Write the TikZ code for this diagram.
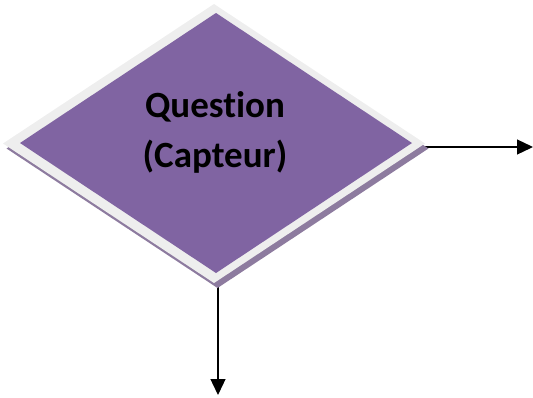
\documentclass[tikz,border=0pt]{standalone}
\usepackage{fontspec}
\setmainfont{Carlito}[Ligatures=NoCommon]
\usetikzlibrary{shapes.geometric,arrows.meta}
\definecolor{purp}{HTML}{8064A2}
\definecolor{rimc}{HTML}{EEEEEE}
\definecolor{shadowc}{HTML}{8D7B9F}
\tikzset{
  x=1pt, y=1pt,
  flow/.style={draw=black, line width=1.3pt, -{Triangle[length=16pt,width=15pt]}},
  rhomb/.style={diamond, inner sep=0pt, outer sep=0pt, draw=none},
  label/.style={font=\fontsize{37}{37}\selectfont\bfseries, text=black, inner sep=0pt, anchor=base}
}
\begin{document}
\begin{tikzpicture}
  \useasboundingbox (0,0) rectangle (533,-397);
  % connector end points
  \coordinate (rt) at (533,-147);
  \coordinate (bt) at (218,-395);
  \coordinate (ra) at (418,-147);
  \coordinate (ba) at (218,-283);
  % connectors, drawn under the decision shape
  \draw[flow] (ra) -- (rt);
  \draw[flow] (ba) -- (bt);
  % decision shape: shadow, light rim, purple face
  \node[rhomb, fill=shadowc, minimum width=422pt, minimum height=279pt] (shd) at (217.5,-148.5) {};
  \node[rhomb, fill=rimc, minimum width=422pt, minimum height=279pt] (dmd) at (214,-143.5) {};
  \node[rhomb, fill=purp, minimum width=392pt, minimum height=260pt] (face) at (216,-143) {};
  % text
  \node[label] (q1) at (215,-117) {Question};
  \node[label] (q2) at (215,-167) {(Capteur)};
\end{tikzpicture}
\end{document}
